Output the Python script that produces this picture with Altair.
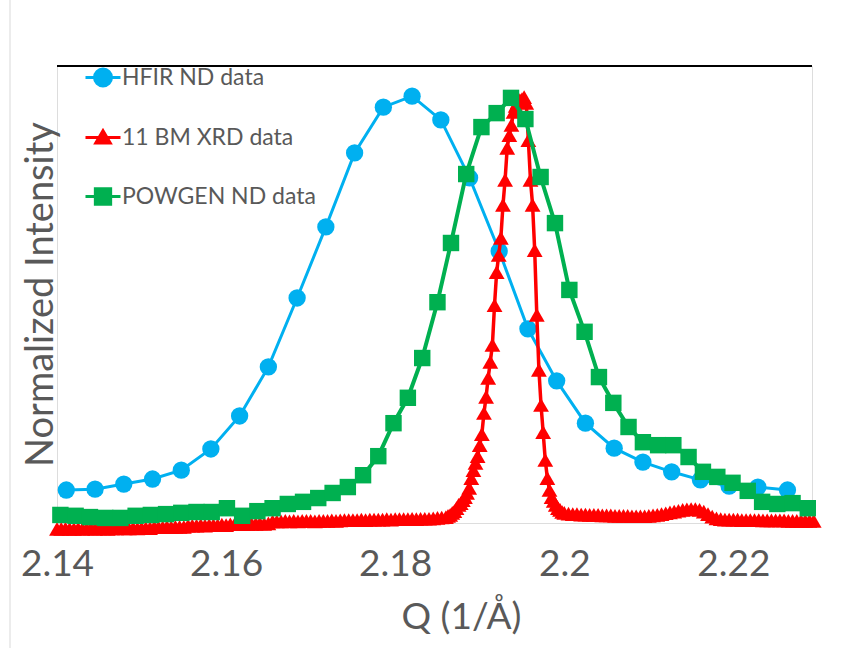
import altair as alt
import pandas as pd

# ---------------- data ----------------
series_names = ["HFIR ND data", "11 BM XRD data", "POWGEN ND data"]
series_colors = ["#00B0F0", "#FF0000", "#00B050"]
series_shapes = ["circle", "triangle-up", "square"]
# legend glyphs: a short line with the marker in its middle
legend_glyphs = [
    "M-2.06,0L2.06,0M1,0A1,1,0,1,1,-1,0A1,1,0,1,1,1,0Z",
    "M-2.06,0L2.06,0M0,-0.8L0.85,0.65L-0.85,0.65Z",
    "M-2.06,0L2.06,0M-0.9,-0.9L0.9,-0.9L0.9,0.9L-0.9,0.9Z",
]

x_ticks = [2.14, 2.16, 2.18, 2.2, 2.22]

hfir_q = [2.1411, 2.1445, 2.1479, 2.1513, 2.1547, 2.1582, 2.1616, 2.1650, 2.1684, 2.1718,
          2.1752, 2.1786, 2.1820, 2.1854, 2.1888, 2.1923, 2.1957, 2.1991, 2.2025, 2.2059,
          2.2093, 2.2127, 2.2161, 2.2195, 2.2229, 2.2264]
hfir_i = [0.078, 0.080, 0.092, 0.104, 0.125, 0.175, 0.253, 0.369, 0.532, 0.700,
          0.875, 0.983, 1.009, 0.953, 0.816, 0.643, 0.459, 0.336, 0.236, 0.177,
          0.144, 0.121, 0.102, 0.087, 0.085, 0.078]

powgen_q = [2.1404, 2.1422, 2.1439, 2.1457, 2.1475, 2.1493, 2.1511, 2.1529, 2.1547, 2.1565,
            2.1583, 2.1601, 2.1619, 2.1637, 2.1655, 2.1673, 2.1691, 2.1709, 2.1726, 2.1744,
            2.1762, 2.1780, 2.1798, 2.1815, 2.1832, 2.1850, 2.1866, 2.1884, 2.1902, 2.1920,
            2.1937, 2.1954, 2.1972, 2.1989, 2.2006, 2.2024, 2.2041, 2.2058, 2.2076, 2.2093,
            2.2111, 2.2129, 2.2147, 2.2164, 2.2181, 2.2199, 2.2217, 2.2234, 2.2252, 2.2270,
            2.2288]
powgen_i = [0.019, 0.017, 0.014, 0.012, 0.012, 0.017, 0.019, 0.021, 0.024, 0.026,
            0.026, 0.035, 0.017, 0.028, 0.035, 0.045, 0.050, 0.059, 0.071, 0.085,
            0.113, 0.158, 0.236, 0.296, 0.390, 0.522, 0.662, 0.825, 0.936, 0.969,
            1.005, 0.955, 0.818, 0.709, 0.551, 0.452, 0.345, 0.284, 0.227, 0.191,
            0.184, 0.184, 0.156, 0.121, 0.109, 0.095, 0.076, 0.050, 0.045, 0.047,
            0.035]

xrd_q_left = [2.1400, 2.1405, 2.1410, 2.1415, 2.1420, 2.1425, 2.1430, 2.1435, 2.1440, 2.1445,
              2.1450, 2.1455, 2.1460, 2.1465, 2.1470, 2.1475, 2.1480, 2.1485, 2.1490, 2.1495,
              2.1500, 2.1505, 2.1510, 2.1515, 2.1520, 2.1525, 2.1530, 2.1535, 2.1540, 2.1545,
              2.1550, 2.1555, 2.1560, 2.1565, 2.1570, 2.1575, 2.1580, 2.1585, 2.1590, 2.1595,
              2.1600, 2.1605, 2.1610, 2.1615, 2.1620, 2.1625, 2.1630, 2.1635, 2.1640, 2.1645,
              2.1650, 2.1655, 2.1660, 2.1665, 2.1670, 2.1675, 2.1680, 2.1685, 2.1690, 2.1695,
              2.1700, 2.1705, 2.1710, 2.1715, 2.1720, 2.1725, 2.1730, 2.1735, 2.1740, 2.1745,
              2.1750, 2.1755, 2.1760, 2.1765, 2.1770, 2.1775, 2.1780, 2.1785, 2.1790, 2.1795,
              2.1800, 2.1805, 2.1810, 2.1815, 2.1820, 2.1825, 2.1830, 2.1835, 2.1840, 2.1845,
              2.1850, 2.1855]
xrd_i_left = [-0.014, -0.014, -0.013, -0.014, -0.014, -0.013, -0.014, -0.013, -0.013, -0.014,
              -0.013, -0.013, -0.014, -0.013, -0.013, -0.012, -0.013, -0.013, -0.012, -0.013,
              -0.012, -0.012, -0.012, -0.010, -0.010, -0.010, -0.009, -0.010, -0.009, -0.009,
              -0.009, -0.006, -0.006, -0.006, -0.005, -0.006, -0.005, -0.005, -0.005, -0.004,
              -0.005, -0.003, -0.003, -0.002, -0.003, -0.002, -0.002, -0.002, -0.001, -0.002,
              -0.001, 0.004, 0.004, 0.004, 0.005, 0.004, 0.005, 0.004, 0.005, 0.005,
              0.005, 0.004, 0.005, 0.005, 0.005, 0.006, 0.005, 0.006, 0.007, 0.007,
              0.007, 0.007, 0.008, 0.007, 0.008, 0.008, 0.008, 0.008, 0.009, 0.008,
              0.009, 0.009, 0.009, 0.009, 0.010, 0.009, 0.010, 0.010, 0.010, 0.011,
              0.012, 0.013]

xrd_q_peak = [2.18600, 2.18625, 2.18650, 2.18675, 2.18700, 2.18725, 2.18750, 2.18775, 2.18800, 2.18825,
              2.18850, 2.18875, 2.18900, 2.18925, 2.18950, 2.18975, 2.19000, 2.19025, 2.19050, 2.19075,
              2.19100, 2.19125, 2.19150, 2.19175, 2.19200, 2.19225, 2.19250, 2.19275, 2.19300, 2.19325,
              2.19350, 2.19375, 2.19400, 2.19425, 2.19450, 2.19475, 2.19500, 2.19525, 2.19550, 2.19575,
              2.19600, 2.19625, 2.19650, 2.19675, 2.19700, 2.19725, 2.19750, 2.19775, 2.19800, 2.19825,
              2.19850, 2.19875, 2.19900, 2.19925, 2.19950, 2.19975, 2.20000]
xrd_i_peak = [0.014, 0.017, 0.019, 0.024, 0.028, 0.035, 0.043, 0.047, 0.054, 0.061,
              0.071, 0.083, 0.106, 0.125, 0.142, 0.158, 0.184, 0.210, 0.260, 0.298,
              0.343, 0.381, 0.421, 0.515, 0.593, 0.634, 0.674, 0.752, 0.811, 0.887,
              0.917, 0.941, 0.972, 0.986, 0.995, 1.000, 1.002, 1.007, 0.993, 0.905,
              0.811, 0.752, 0.645, 0.492, 0.362, 0.279, 0.215, 0.149, 0.106, 0.078,
              0.061, 0.052, 0.043, 0.035, 0.031, 0.026, 0.024]

xrd_q_right = [2.2005, 2.2010, 2.2015, 2.2020, 2.2025, 2.2030, 2.2035, 2.2040, 2.2045, 2.2050,
               2.2055, 2.2060, 2.2065, 2.2070, 2.2075, 2.2080, 2.2085, 2.2090, 2.2095, 2.2100,
               2.2105, 2.2110, 2.2115, 2.2120, 2.2125, 2.2130, 2.2135, 2.2140, 2.2145, 2.2150,
               2.2155, 2.2160, 2.2165, 2.2170, 2.2175, 2.2180, 2.2185, 2.2190, 2.2195, 2.2200,
               2.2205, 2.2210, 2.2215, 2.2220, 2.2225, 2.2230, 2.2235, 2.2240, 2.2245, 2.2250,
               2.2255, 2.2260, 2.2265, 2.2270, 2.2275, 2.2280, 2.2285, 2.2290, 2.2295]
xrd_i_right = [0.022, 0.021, 0.021, 0.020, 0.020, 0.019, 0.019, 0.019, 0.018, 0.018,
               0.018, 0.017, 0.017, 0.017, 0.017, 0.016, 0.016, 0.016, 0.016, 0.017,
               0.018, 0.019, 0.021, 0.023, 0.025, 0.027, 0.029, 0.031, 0.032, 0.033,
               0.033, 0.031, 0.027, 0.021, 0.015, 0.011, 0.009, 0.008, 0.008, 0.008,
               0.008, 0.007, 0.007, 0.007, 0.007, 0.007, 0.006, 0.006, 0.006, 0.006,
               0.006, 0.006, 0.005, 0.005, 0.005, 0.005, 0.005, 0.005, 0.005]

# ---------------- tables ----------------
def make_df(q, i, name):
    return pd.DataFrame({"Q": q, "I": i, "series": name})

hfir_df = make_df(hfir_q, hfir_i, series_names[0])
xrd_df = make_df(xrd_q_left + xrd_q_peak + xrd_q_right,
                 xrd_i_left + xrd_i_peak + xrd_i_right, series_names[1])
powgen_df = make_df(powgen_q, powgen_i, series_names[2])

# ---------------- layout / style ----------------
W, H = 755, 457
FONT = "Lato"
TXT = "#595959"

x_scale = alt.Scale(domain=[2.14, 2.2293], nice=False, zero=False)
y_scale = alt.Scale(domain=[0, 1.0804], nice=False, zero=False)

x_axis = alt.Axis(values=x_ticks, format=".3~f", title="Q (1/Å)", grid=False, domain=False,
                  ticks=False, tickSize=0, labelFont=FONT, labelFontSize=37, labelColor=TXT,
                  labelPadding=23, labelFlush=False, labelOverlap=False,
                  titleFont=FONT, titleFontSize=37, titleColor=TXT, titleFontWeight="normal",
                  titleX=404, titleY=76, titleBaseline="top", titleAlign="center")
y_axis = alt.Axis(labels=False, ticks=False, domain=False, grid=False,
                  title="Normalized Intensity", titleFont=FONT, titleFontSize=38,
                  titleColor=TXT, titleFontWeight="normal", titleAngle=270,
                  titleX=-5, titleY=228, titleBaseline="alphabetic", titleAlign="center")

x_enc = alt.X("Q:Q", scale=x_scale, axis=x_axis)
y_enc = alt.Y("I:Q", scale=y_scale, axis=y_axis)

layers = []
styles = [(hfir_df, 0, 3, 300), (xrd_df, 1, 3.5, 250), (powgen_df, 2, 4, 270)]
for df, k, lw, msize in styles:
    layers.append(alt.Chart(df).mark_line(strokeWidth=lw, color=series_colors[k]).encode(
        x=x_enc, y=y_enc))
    layers.append(alt.Chart(df).mark_point(filled=True, opacity=1, size=msize, strokeWidth=0,
                                           shape=series_shapes[k], color=series_colors[k]).encode(
        x=x_enc, y=y_enc))

# legend: built from the series scale (no data rows drawn)
legend = alt.Legend(orient="none", legendX=34.5, legendY=0, direction="vertical", title=None,
                    symbolSize=289, symbolStrokeWidth=3, labelFont=FONT, labelFontSize=23,
                    labelColor=TXT, labelOffset=7.5, labelLimit=400, rowPadding=32, padding=0)
legend_layer = alt.Chart(alt.InlineData(values=[])).mark_point(filled=True, opacity=1).encode(
    fill=alt.Fill("series:N", scale=alt.Scale(domain=series_names, range=series_colors), legend=legend),
    stroke=alt.Stroke("series:N", scale=alt.Scale(domain=series_names, range=series_colors), legend=legend),
    shape=alt.Shape("series:N", scale=alt.Scale(domain=series_names, range=legend_glyphs), legend=legend),
)

top_rule = alt.Chart().mark_rule(color="black", strokeWidth=2).encode(
    x=alt.value(0), x2=alt.value(W), y=alt.value(0))
page_rule = alt.Chart().mark_rule(color="#d9d9d9", strokeWidth=1).encode(
    x=alt.value(-47), y=alt.value(-66), y2=alt.value(582))

chart = alt.layer(page_rule, *layers, top_rule, legend_layer).properties(
    width=W, height=H,
    autosize=alt.AutoSizeParams(type="none"),
    padding={"left": 57, "top": 66, "right": 40, "bottom": 125},
).configure_view(stroke="#808080", strokeWidth=2).configure(background="white")

chart.save("out.html", embed_options={"renderer": "svg", "actions": False})
